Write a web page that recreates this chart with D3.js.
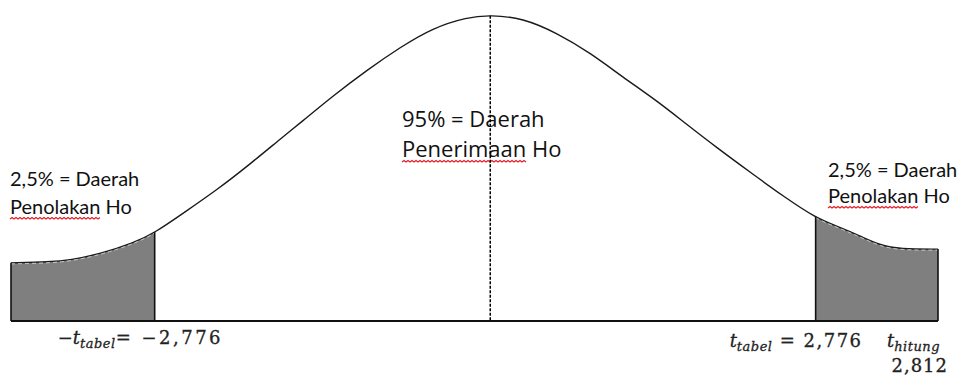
<!DOCTYPE html>
<html>
<head>
<meta charset="utf-8">
<script src="https://cdn.jsdelivr.net/npm/d3@7"></script>
<style>
  body { margin: 0; background: #fff; }
  svg { display: block; }
</style>
</head>
<body>
<div id="chart"></div>
<script>
// curve: x in % of the drawn width, y in % of the peak height
const curveX = [0.0, 4.2, 6.4, 9.6, 13.2, 15.5, 18.6, 22.2, 25.8, 29.3, 31.2, 34.7, 38.4, 42.0, 45.5, 49.2, 51.7,
                55.2, 58.9, 62.5, 66.0, 69.7, 72.7, 76.2, 79.7, 83.3, 86.8, 89.1, 91.6, 93.7, 95.9, 100];
const curveY = [19.0, 19.3, 19.9, 21.9, 25.5, 28.8, 35.3, 42.8, 51.3, 60.1, 64.7, 73.5, 82.0, 89.5, 95.8, 99.3, 100,
                99.0, 94.1, 87.6, 79.7, 71.9, 64.7, 56.5, 48.7, 40.8, 33.7, 31.0, 27.8, 24.8, 23.5, 23.5];
const cutLeft = 15.5, cutRight = 86.8, centre = 51.7;

const sideText = ["2,5% = Daerah", "Penolakan", " Ho"];
const midText = ["95% = Daerah", "Penerimaan", " Ho"];
const tTabel = "2,776";
const tHitung = "2,812";

const width = 963, height = 376;

const svg = d3.select("#chart")
    .append("svg")
    .attr("width", width)
    .attr("height", height);

const x = d3.scaleLinear().domain([0, 100]).range([11, 938]);
const y = d3.scaleLinear().domain([0, 100]).range([321, 15]);

const pts = curveX.map((v, i) => ({x: v, y: curveY[i]}));

const line = d3.line()
    .x(d => x(d.x))
    .y(d => y(d.y))
    .curve(d3.curveBasis);

const gTails = svg.append("g");

// bell curve
const bell = svg.append("path")
    .attr("d", line(pts))
    .style("fill", "none")
    .style("stroke", "#1a1a1a")
    .style("stroke-width", 1.4);

// sample the drawn curve so the tails follow it exactly
const node = bell.node();
const total = node.getTotalLength();
const samples = d3.range(0, total + 0.5, 0.5).map(l => node.getPointAtLength(Math.min(l, total)));
const curveAt = px => {
    const i = d3.bisector(d => d.x).center(samples, px);
    return samples[i].y;
};

const tailPoly = (a, b) => {
    const inside = samples.filter(p => p.x >= x(a) && p.x <= x(b));
    return [[x(a), y(0)], [x(a), curveAt(x(a))]]
        .concat(inside.map(p => [p.x, p.y]))
        .concat([[x(b), curveAt(x(b))], [x(b), y(0)]]);
};
const tails = [tailPoly(0, cutLeft), tailPoly(cutRight, 100)];

gTails.selectAll("path")
    .data(tails)
    .join("path")
    .attr("d", d => "M" + d.join("L") + "Z")
    .style("fill", "#7f7f7f");

// the top of the shaded parts looks dashed white in the picture
svg.selectAll("path.tailEdge")
    .data(tails)
    .join("path")
    .attr("class", "tailEdge")
    .attr("d", d => "M" + d.slice(1, -1).join("L"))
    .attr("transform", "translate(0,1)")
    .style("fill", "none")
    .style("stroke", "#fff")
    .style("stroke-width", 0.9)
    .style("stroke-dasharray", "4,3")
    .style("opacity", 0.8);

// baseline
svg.append("line")
    .attr("x1", x(0)).attr("x2", x(100))
    .attr("y1", y(0)).attr("y2", y(0))
    .style("stroke", "#111")
    .style("stroke-width", 2);

// vertical edges of the tails
const edges = [0, cutLeft, cutRight, 100];
svg.selectAll("line.edge")
    .data(edges)
    .join("line")
    .attr("class", "edge")
    .attr("x1", d => x(d)).attr("x2", d => x(d))
    .attr("y1", y(0))
    .attr("y2", d => curveAt(x(d)))
    .style("stroke", "#111")
    .style("stroke-width", 1.6);

// texts
function squiggle(x0, x1, yy) {
    let p = `M${x0},${yy}`;
    let up = true;
    for (let xx = x0 + 2; xx <= x1; xx += 2) {
        p += `L${xx},${yy + (up ? -1.5 : 0)}`;
        up = !up;
    }
    return p;
}

function label(xs, ys, lines, font, size, gap) {
    const g = svg.append("g");
    g.append("text")
        .attr("x", xs).attr("y", ys)
        .style("font-family", font).style("font-size", size + "px").style("fill", "#111")
        .text(lines[0]);
    const t2 = g.append("text")
        .attr("x", xs).attr("y", ys + gap)
        .style("font-family", font).style("font-size", size + "px").style("fill", "#111");
    const w = t2.append("tspan").text(lines[1]);
    t2.append("tspan").text(lines[2]);
    const len = w.node().getComputedTextLength();
    g.append("path")
        .attr("d", squiggle(xs, xs + len, ys + gap + 5))
        .style("fill", "none")
        .style("stroke", "#e8202a")
        .style("stroke-width", 1.2);
}

label(10, 186, sideText, "Lato", 20, 28);
label(828, 177, sideText, "Lato", 20, 26);
label(402, 127, midText, "'Open Sans'", 22, 30);

// centre dashed line
svg.append("line")
    .attr("x1", x(centre)).attr("x2", x(centre))
    .attr("y1", curveAt(x(centre))).attr("y2", y(0))
    .style("stroke", "#000")
    .style("stroke-width", 1.5)
    .style("stroke-dasharray", "3,1.5");

// t labels
const mathFont = "'DejaVu Serif'";
function tLabel(xs, ys, pre, sub, post) {
    const t = svg.append("text")
        .attr("x", xs).attr("y", ys)
        .style("font-family", mathFont)
        .style("font-size", "18px")
        .style("fill", "#222")
        .style("stroke", "#222")
        .style("stroke-width", 0.3);
    if (pre) t.append("tspan").text(pre);
    t.append("tspan").style("font-style", "italic").text("t");
    t.append("tspan").attr("dy", 4).style("font-style", "italic").style("font-size", "13px")
        .style("letter-spacing", "0.5px").text(sub);
    if (post) t.append("tspan").attr("dy", -4).style("letter-spacing", "1.5px").text(post);
    return t;
}

tLabel(x(cutLeft) - 97, 344, "\u2212", "tabel", "= \u2212" + tTabel).select("tspan:last-child")
    .style("letter-spacing", "2.5px");
tLabel(x(cutRight) - 86, 347, null, "tabel", " = " + tTabel);
tLabel(887, 347, null, "hitung", null);
svg.append("text")
    .attr("x", 948).attr("y", 372)
    .attr("text-anchor", "end")
    .style("font-family", mathFont)
    .style("font-size", "18px")
    .style("letter-spacing", "1px")
    .style("fill", "#222")
    .style("stroke", "#222")
    .style("stroke-width", 0.3)
    .text(tHitung);
</script>
</body>
</html>
